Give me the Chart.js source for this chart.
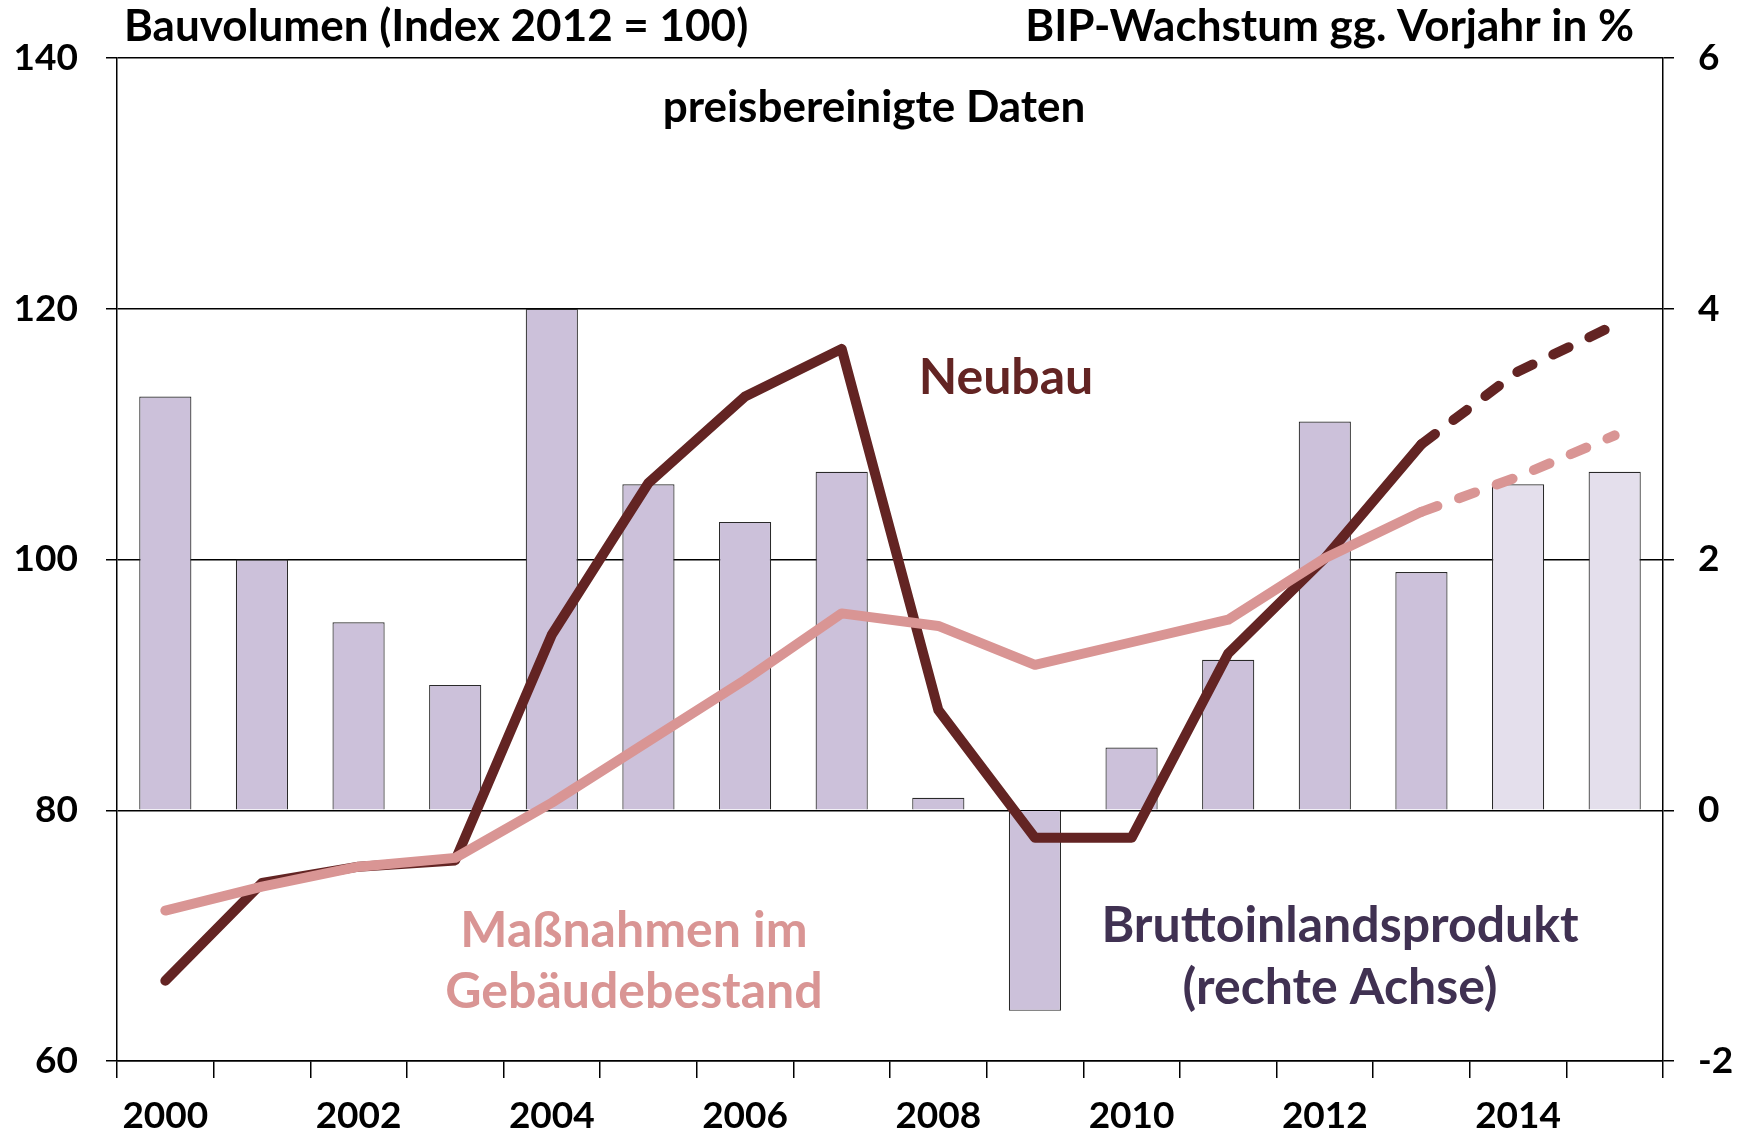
<!DOCTYPE html>
<html>
<head>
<meta charset="utf-8">
<script src="https://cdn.jsdelivr.net/npm/chart.js@4.4.1/dist/chart.umd.min.js"></script>
<style>
  html, body { margin: 0; padding: 0; background: #fff; }
  canvas { display: block; }
</style>
</head>
<body>
<canvas id="chart" width="1752" height="1136"></canvas>
<script>
const years = ['2000', '2001', '2002', '2003', '2004', '2005', '2006', '2007',
               '2008', '2009', '2010', '2011', '2012', '2013', '2014', '2015'];

// BIP-Wachstum gg. Vorjahr in % (rechte Achse)
const bip = [3.3, 2.0, 1.5, 1.0, 4.0, 2.6, 2.3, 2.7, 0.1, -1.6, 0.5, 1.2, 3.1, 1.9, 2.6, 2.7];

// Bauvolumen, Index 2012 = 100
const neubau = [66.4, 74.2, 75.5, 76.0, 94.0, 106.1, 113.0, 116.8, 88.0, 77.8, 77.8, 92.5, 100.1, 109.2, 115.0, 118.7];
const massnahmen = [72.0, 73.9, 75.5, 76.2, 80.6, 85.5, 90.4, 95.7, 94.7, 91.6, 93.4, 95.2, 100.1, 103.8, 106.6, 109.9];

const leftTicks = [60, 80, 100, 120, 140];
const rightTicks = [-2, 0, 2, 4, 6];

// ab hier Prognose
const forecastIndex = 13;

const FONT = 'Lato, Calibri, "Open Sans", sans-serif';
const dark = '#632423';
const pink = '#D99594';
const purple = '#403152';

const labelsPlugin = {
    id: 'labels',
    afterDraw(chart) {
        const ctx = chart.ctx;
        const items = [
            { t: 'Bauvolumen (Index 2012 = 100)', x: 124, y: 27, a: 'left', c: '#000', s: 44 },
            { t: 'BIP-Wachstum gg. Vorjahr in %', x: 1634, y: 27, a: 'right', c: '#000', s: 44 },
            { t: 'preisbereinigte Daten', x: 874, y: 108, a: 'center', c: '#000', s: 44 },
            { t: 'Neubau', x: 1006, y: 378, a: 'center', c: dark, s: 50 },
            { t: 'Maßnahmen im', x: 634, y: 931, a: 'center', c: pink, s: 50 },
            { t: 'Gebäudebestand', x: 634, y: 992, a: 'center', c: pink, s: 50 },
            { t: 'Bruttoinlandsprodukt', x: 1340, y: 926, a: 'center', c: purple, s: 50 },
            { t: '(rechte Achse)', x: 1340, y: 988, a: 'center', c: purple, s: 50 }
        ];
        ctx.save();
        ctx.textBaseline = 'middle';
        items.forEach(it => {
            ctx.font = 'bold ' + it.s + 'px ' + FONT;
            ctx.fillStyle = it.c;
            ctx.textAlign = it.a;
            ctx.fillText(it.t, it.x, it.y);
        });
        ctx.restore();
    }
};

const dashAfter = (dash) => ({
    borderDash: c => (c.p0DataIndex >= forecastIndex ? dash : undefined)
});

new Chart(document.getElementById('chart').getContext('2d'), {
    data: {
        labels: years,
        datasets: [
            {
                type: 'bar',
                label: 'Bruttoinlandsprodukt',
                data: bip,
                yAxisID: 'y1',
                backgroundColor: c => (c.dataIndex > forecastIndex ? '#E4DFEC' : '#CCC1DA'),
                borderColor: '#2a2a2a',
                borderWidth: 1.2,
                barPercentage: 0.54,
                categoryPercentage: 1.0,
                order: 3
            },
            {
                type: 'line',
                label: 'Neubau',
                data: neubau,
                yAxisID: 'y',
                borderColor: dark,
                borderWidth: 10,
                borderCapStyle: 'round',
                borderJoinStyle: 'round',
                pointRadius: 0,
                tension: 0,
                segment: dashAfter([17, 23]),
                order: 2
            },
            {
                type: 'line',
                label: 'Maßnahmen im Gebäudebestand',
                data: massnahmen,
                yAxisID: 'y',
                borderColor: pink,
                borderWidth: 10,
                borderCapStyle: 'round',
                borderJoinStyle: 'round',
                pointRadius: 0,
                tension: 0,
                segment: dashAfter([17, 23]),
                order: 1
            }
        ]
    },
    options: {
        responsive: false,
        animation: false,
        layout: { padding: { top: 58, left: 0, right: 0, bottom: 0 } },
        plugins: {
            legend: { display: false },
            tooltip: { enabled: false }
        },
        scales: {
            x: {
                type: 'category',
                offset: true,
                afterFit: s => { s.height = 75; },
                grid: {
                    offset: true,
                    drawOnChartArea: false,
                    color: '#000',
                    lineWidth: 1.5,
                    tickLength: 17
                },
                border: { display: true, color: '#000', width: 1.5 },
                ticks: {
                    autoSkip: false,
                    maxRotation: 0,
                    padding: 16,
                    color: '#000',
                    font: { family: FONT, size: 37, weight: 'bold' },
                    callback: (v, i) => (i % 2 === 0 ? years[i] : '')
                }
            },
            y: {
                position: 'left',
                min: 60,
                max: 140,
                afterFit: s => { s.width = 117; },
                afterBuildTicks: s => { s.ticks = leftTicks.map(v => ({ value: v })); },
                grid: {
                    color: '#000',
                    lineWidth: 1.5,
                    tickLength: 11
                },
                border: { display: true, color: '#000', width: 1.5 },
                ticks: {
                    padding: 28,
                    color: '#000',
                    font: { family: FONT, size: 37, weight: 'bold' }
                }
            },
            y1: {
                position: 'right',
                min: -2,
                max: 6,
                afterFit: s => { s.width = 89; },
                afterBuildTicks: s => { s.ticks = rightTicks.map(v => ({ value: v })); },
                grid: {
                    drawOnChartArea: false,
                    color: '#000',
                    lineWidth: 1.5,
                    tickLength: 11
                },
                border: { display: true, color: '#000', width: 1.5 },
                ticks: {
                    padding: 24,
                    color: '#000',
                    font: { family: FONT, size: 37, weight: 'bold' }
                }
            }
        }
    },
    plugins: [labelsPlugin]
});
</script>
</body>
</html>
